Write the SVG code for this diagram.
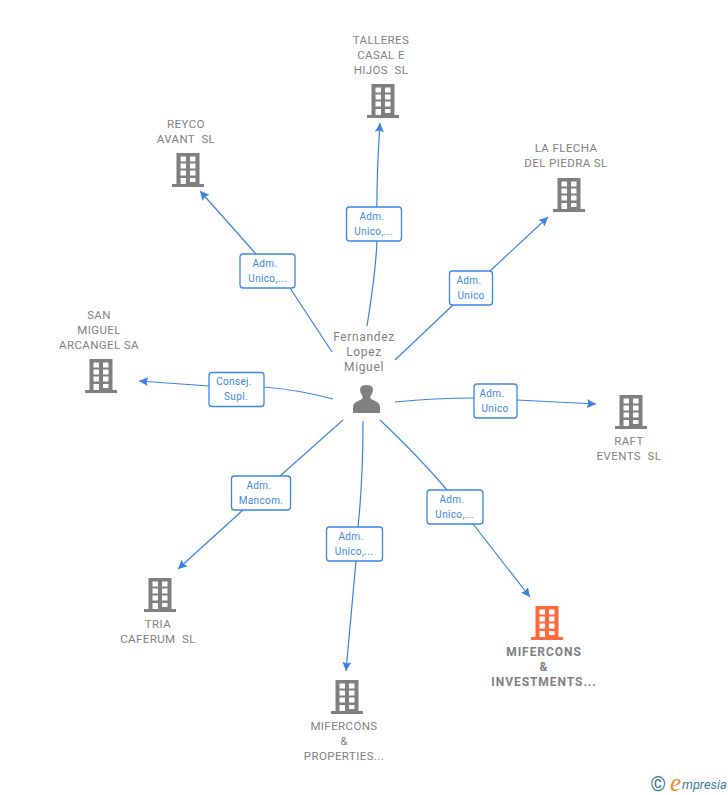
<svg xmlns="http://www.w3.org/2000/svg" width="728" height="795" viewBox="0 0 728 795">
<style>
text{font-family:Roboto,"Liberation Sans",Arial,sans-serif;white-space:pre}
.t{font-size:11.5px;fill:#7f7f7f;text-anchor:middle;letter-spacing:.4px}
.b{font-weight:700;font-size:12px;letter-spacing:.95px}
.p{font-size:12px;letter-spacing:.65px}
.l{font-size:10px;fill:#3b86e6;text-anchor:middle;letter-spacing:.35px}
.c{fill:none;stroke:#3b82e0;stroke-width:1.2}
.box{fill:#fff;stroke:#3b86e6;stroke-width:1.3}
</style>
<defs>
<marker id="a" markerUnits="userSpaceOnUse" markerWidth="10" markerHeight="9" refX="9" refY="4.500" orient="auto"><path d="M0 0L9 4.500L0 9L1.500 4.500Z" fill="#3b82e0"/></marker>
<g id="bld">
<path d="M-11.500 -17H11.500V14H16V17H-16V14H-11.500ZM-7.500 -13.500V-8.500H-2V-13.500ZM2 -13.500V-8.500H7.500V-13.500ZM-7.500 -6.500V-1.500H-2V-6.500ZM2 -6.500V-1.500H7.500V-6.500ZM-7.500 0.500V5.500H-2V0.500ZM2 0.500V5.500H7.500V0.500ZM-7.500 8V14H-2V8ZM2 8V12H7.500V8Z" fill-rule="evenodd"/>
</g>
</defs>
<g id="connectors">
<path class="c" marker-end="url(#a)" d="M367 326Q376 270 377 240Q376 180 380 123"/>
<path class="c" marker-end="url(#a)" d="M332 352L290 288M256 254L200 191"/>
<path class="c" marker-end="url(#a)" d="M395 360L453 305M490 271L548 217"/>
<path class="c" marker-end="url(#a)" d="M333 399Q300 390 264 387M209 386L139 381"/>
<path class="c" marker-end="url(#a)" d="M395 402Q435 398 474 398M517 400L596 404"/>
<path class="c" marker-end="url(#a)" d="M343 420L280 476M243 510L178 569"/>
<path class="c" marker-end="url(#a)" d="M363 421Q363 480 358 527M356 561L346 671"/>
<path class="c" marker-end="url(#a)" d="M380 420Q420 458 447 490M473 524L530 597"/>
</g>
<g id="labels">
<rect class="box" x="346.500" y="207" width="55" height="34" rx="3"/><text class="l" x="372" y="220">Adm.</text><text class="l" x="373.500" y="235">Unico,...</text>
<rect class="box" x="240" y="254" width="55" height="34" rx="3"/><text class="l" x="265" y="267">Adm.</text><text class="l" x="267.500" y="282">Unico,...</text>
<rect class="box" x="449.500" y="271" width="43" height="34" rx="3"/><text class="l" x="469" y="284">Adm.</text><text class="l" x="471" y="299">Unico</text>
<rect class="box" x="209" y="372.500" width="55" height="34" rx="3"/><text class="l" x="234" y="385">Consej.</text><text class="l" x="236" y="400">Supl.</text>
<rect class="box" x="474" y="384" width="43" height="34" rx="3"/><text class="l" x="492" y="397">Adm.</text><text class="l" x="495" y="412">Unico</text>
<rect class="box" x="231.500" y="476" width="59" height="34" rx="3"/><text class="l" x="259" y="489">Adm.</text><text class="l" x="261" y="504">Mancom.</text>
<rect class="box" x="326.500" y="527" width="56" height="34" rx="3"/><text class="l" x="351" y="540">Adm.</text><text class="l" x="354" y="555">Unico,...</text>
<rect class="box" x="427" y="490" width="56" height="34" rx="3"/><text class="l" x="452" y="503">Adm.</text><text class="l" x="454.500" y="518">Unico,...</text>
</g>
<g id="person"><path d="M353 413V407Q353 403 358 401L362 399Q363 398 362.500 396Q360 393 360 390Q360 385 366.500 385Q373 385 373 390Q373 393 370.500 396Q370 398 371 399L375 401Q380 403 380 407V413Z" fill="#7f7f7f"/>
<text class="t p" x="364" y="341">Fernandez</text><text class="t p" x="364" y="356">Lopez</text><text class="t p" x="364" y="371">Miguel</text></g>
<g id="n1"><use href="#bld" x="383" y="101" fill="#7f7f7f"/><text class="t" x="381" y="44">TALLERES</text><text class="t" x="381" y="59">CASAL E</text><text class="t" x="381" y="74">HIJOS  SL</text></g>
<g id="n2"><use href="#bld" x="188" y="170" fill="#7f7f7f"/><text class="t" x="186" y="128">REYCO</text><text class="t" x="186" y="143">AVANT  SL</text></g>
<g id="n3"><use href="#bld" x="569" y="195" fill="#7f7f7f"/><text class="t" x="566" y="152">LA FLECHA</text><text class="t" x="566" y="167">DEL PIEDRA SL</text></g>
<g id="n4"><use href="#bld" x="101" y="376" fill="#7f7f7f"/><text class="t" x="99" y="319">SAN</text><text class="t" x="99" y="334">MIGUEL</text><text class="t" x="99" y="349">ARCANGEL SA</text></g>
<g id="n5"><use href="#bld" x="631" y="412" fill="#7f7f7f"/><text class="t" x="629" y="445">RAFT</text><text class="t" x="629" y="460">EVENTS  SL</text></g>
<g id="n6"><use href="#bld" x="160" y="595" fill="#7f7f7f"/><text class="t" x="158" y="628">TRIA</text><text class="t" x="158" y="643">CAFERUM  SL</text></g>
<g id="n7"><use href="#bld" x="347" y="697" fill="#7f7f7f"/><text class="t" x="344" y="730">MIFERCONS</text><text class="t" x="344" y="745">&amp;</text><text class="t" x="344" y="760">PROPERTIES...</text></g>
<g id="n8"><use href="#bld" x="547" y="623" fill="#fb6a3a"/><text class="t b" x="544" y="656">MIFERCONS</text><text class="t b" x="544" y="671">&amp;</text><text class="t b" x="544" y="686">INVESTMENTS...</text></g>
<g id="logo"><text x="658" y="791" font-size="20" fill="#3f7f8f" text-anchor="middle">©</text>
<text x="670" y="791" font-size="25" font-style="italic" fill="#f08a1d" style="font-family:'Liberation Serif',serif">e</text><text x="682" y="789" font-size="12.800" font-style="italic" fill="#3f7f8f">mpresia</text></g>
</svg>
